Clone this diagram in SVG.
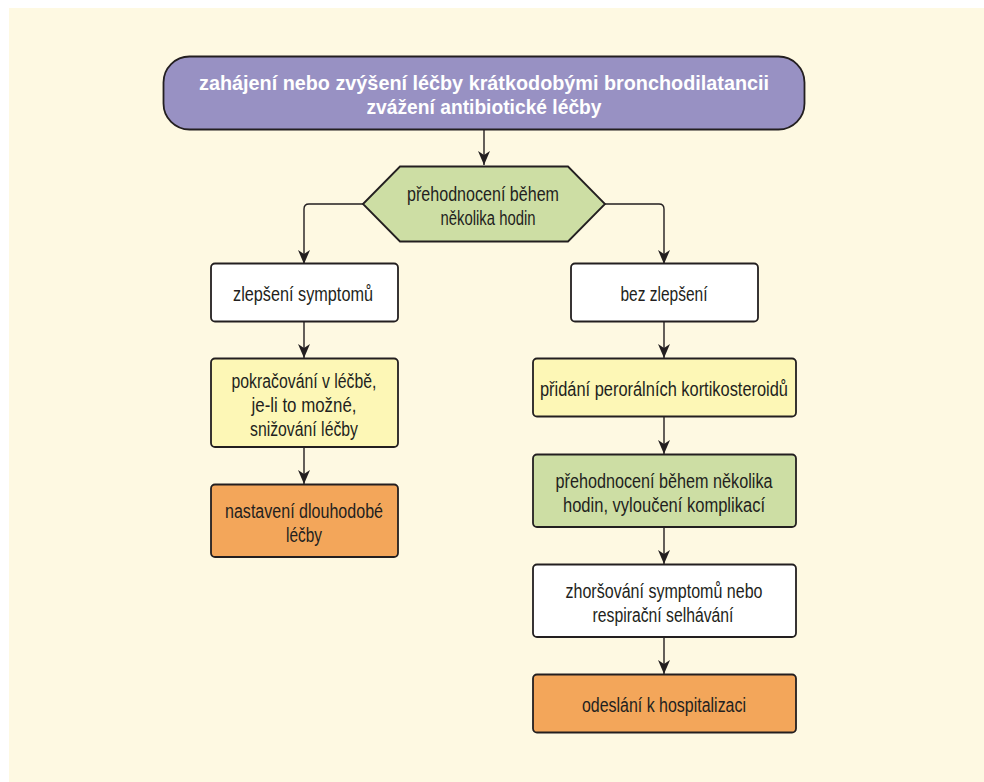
<svg xmlns="http://www.w3.org/2000/svg" width="984" height="782" viewBox="0 0 984 782">
<defs>
<style>
.box{stroke:#231f20;stroke-width:1.8}
.t{font-family:"Liberation Sans","Noto Sans",sans-serif;font-size:20px;fill:#231f20;text-anchor:middle}
.tb{font-family:"Liberation Sans","Noto Sans",sans-serif;font-size:20px;font-weight:bold;fill:#ffffff;text-anchor:middle}
.c{fill:none;stroke:#231f20;stroke-width:1.4}
</style>
<marker id="ah" viewBox="0 0 14 12" refX="14" refY="6" markerWidth="14" markerHeight="12" markerUnits="userSpaceOnUse" orient="auto">
<path d="M0,0 L14,6 L0,12 L4,6 z" fill="#231f20"/>
</marker>
</defs>
<rect x="0" y="0" width="984" height="782" fill="#ffffff"/>
<rect x="9" y="8" width="975" height="774" fill="#fef9e2"/>

<g id="connectors">
<path class="c" d="M484,130 V165" marker-end="url(#ah)"/>
<path class="c" d="M363,204 H309 Q304,204 304,209 V264" marker-end="url(#ah)"/>
<path class="c" d="M605,204 H659 Q664,204 664,209 V264" marker-end="url(#ah)"/>
<path class="c" d="M304,322 V358" marker-end="url(#ah)"/>
<path class="c" d="M304,447 V484" marker-end="url(#ah)"/>
<path class="c" d="M664,322 V358" marker-end="url(#ah)"/>
<path class="c" d="M664,417 V454" marker-end="url(#ah)"/>
<path class="c" d="M664,527 V564" marker-end="url(#ah)"/>
<path class="c" d="M664,637 V674" marker-end="url(#ah)"/>
</g>

<g id="start">
<rect class="box" x="163.5" y="56.5" width="641" height="73" rx="26" fill="#9891c3"/>
<text class="tb" x="484" y="90" textLength="570" lengthAdjust="spacingAndGlyphs">zahájení nebo zvýšení léčby krátkodobými bronchodilatancii</text>
<text class="tb" x="484" y="114" textLength="235" lengthAdjust="spacingAndGlyphs">zvážení antibiotické léčby</text>
</g>

<g id="reassess">
<polygon class="box" points="363,204 400,166.5 568,166.5 605,204 568,241.5 400,241.5" fill="#cddea4"/>
<text class="t" x="483" y="200.5" textLength="152" lengthAdjust="spacingAndGlyphs">přehodnocení během</text>
<text class="t" x="488" y="224.5" textLength="95" lengthAdjust="spacingAndGlyphs">několika hodin</text>
</g>

<g id="improved">
<rect class="box" x="211" y="263.5" width="187" height="58" rx="4" fill="#ffffff"/>
<text class="t" x="303" y="301" textLength="140" lengthAdjust="spacingAndGlyphs">zlepšení symptomů</text>
</g>

<g id="continue">
<rect class="box" x="211" y="358.5" width="187" height="88.5" rx="4" fill="#fdf7b6"/>
<text class="t" x="304" y="388" textLength="145" lengthAdjust="spacingAndGlyphs">pokračování v léčbě,</text>
<text class="t" x="304" y="412" textLength="105" lengthAdjust="spacingAndGlyphs">je-li to možné,</text>
<text class="t" x="304" y="436" textLength="108" lengthAdjust="spacingAndGlyphs">snižování léčby</text>
</g>

<g id="longterm">
<rect class="box" x="211" y="484.5" width="187" height="72.5" rx="4" fill="#f3a65a"/>
<text class="t" x="304" y="517.5" textLength="158" lengthAdjust="spacingAndGlyphs">nastavení dlouhodobé</text>
<text class="t" x="304" y="541.5" textLength="36" lengthAdjust="spacingAndGlyphs">léčby</text>
</g>

<g id="noimprove">
<rect class="box" x="571" y="263.5" width="187" height="58" rx="4" fill="#ffffff"/>
<text class="t" x="664" y="301" textLength="87" lengthAdjust="spacingAndGlyphs">bez zlepšení</text>
</g>

<g id="steroids">
<rect class="box" x="533" y="358.5" width="263" height="58" rx="4" fill="#fdf7b6"/>
<text class="t" x="664" y="396" textLength="248" lengthAdjust="spacingAndGlyphs">přidání perorálních kortikosteroidů</text>
</g>

<g id="reassess2">
<rect class="box" x="533" y="454.5" width="263" height="72.5" rx="4" fill="#cddea4"/>
<text class="t" x="664" y="488" textLength="217" lengthAdjust="spacingAndGlyphs">přehodnocení během několika</text>
<text class="t" x="664" y="512" textLength="202" lengthAdjust="spacingAndGlyphs">hodin, vyloučení komplikací</text>
</g>

<g id="worsening">
<rect class="box" x="533" y="564.5" width="263" height="72.5" rx="4" fill="#ffffff"/>
<text class="t" x="664" y="598" textLength="197" lengthAdjust="spacingAndGlyphs">zhoršování symptomů nebo</text>
<text class="t" x="663" y="622" textLength="141" lengthAdjust="spacingAndGlyphs">respirační selhávání</text>
</g>

<g id="hospital">
<rect class="box" x="533" y="674.5" width="263" height="58" rx="4" fill="#f3a65a"/>
<text class="t" x="664" y="712" textLength="164" lengthAdjust="spacingAndGlyphs">odeslání k hospitalizaci</text>
</g>
</svg>
